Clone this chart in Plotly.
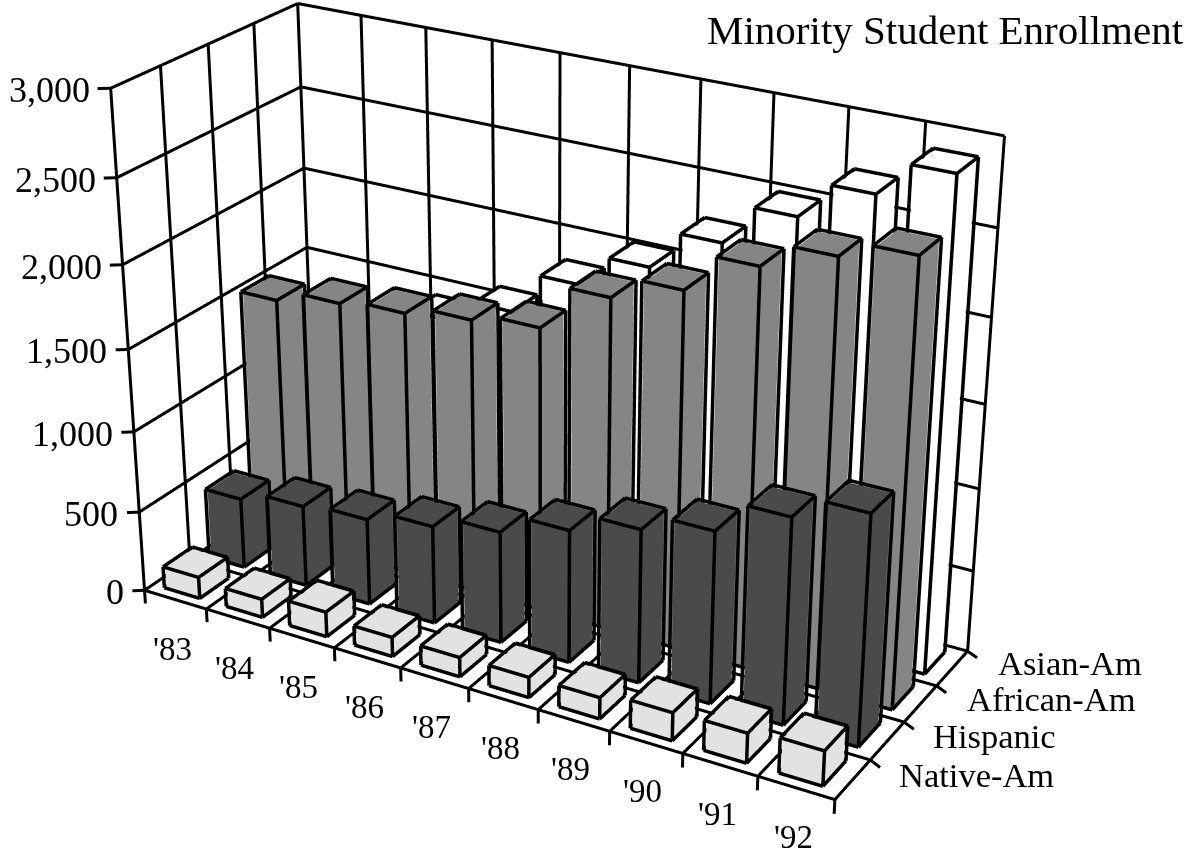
import plotly.graph_objects as go

# Enrollment by year and group
years = ["'83", "'84", "'85", "'86", "'87", "'88", "'89", "'90", "'91", "'92"]
groups = ["Native-Am", "Hispanic", "African-Am", "Asian-Am"]
native_am = [135, 115, 155, 120, 120, 125, 130, 170, 180, 210]
hispanic = [440, 505, 535, 605, 685, 810, 930, 1035, 1230, 1365]
african_am = [1515, 1590, 1625, 1680, 1730, 2000, 2135, 2360, 2505, 2600]
asian_am = [1175, 1270, 1425, 1570, 1825, 2020, 2250, 2485, 2695, 2890]
series = [native_am, hispanic, african_am, asian_am]
value_ticks = [0, 500, 1000, 1500, 2000, 2500, 3000]
title = "Minority Student Enrollment"

colors = ["#E2E2E2", "#4A4A4A", "#858585", "#FFFFFF"]
FONT = "Liberation Serif"

# Footprint of a column inside its floor cell, as fractions of the cell
BAR_X = (0.182, 0.757)
BAR_Y = (0.189, 0.836)

# Faces sit a hair inside the outlines so the black edges stay fully visible
INSET, TOP_INSET = 0.02, 8

X_RANGE, Y_RANGE, Z_RANGE = (-0.5, 10.5), (-0.5, 4.5), (-150, 3050)

# Plotly's field of view is a fixed 45 degrees of the scene height, so the long
# lens of this chart needs a very tall scene, lifted so its subject is on the page.
SCENE_W, SCENE_H, LIFT = 1207, 2402, 793
TITLE_RIGHT, TITLE_MID = 1186, 30

BOX_TRIANGLES = [(0, 1, 2), (0, 2, 3), (4, 5, 6), (4, 6, 7), (0, 1, 5), (0, 5, 4),
                 (1, 2, 6), (1, 6, 5), (2, 3, 7), (2, 7, 6), (3, 0, 4), (3, 4, 7)]
BOX_EDGES = [(0, 1), (1, 2), (2, 3), (3, 0), (4, 5), (5, 6), (6, 7), (7, 4),
             (0, 4), (1, 5), (2, 6), (3, 7)]

fig = go.Figure()

for row, values in enumerate(series):
    vx, vy, vz, ti, tj, tk = [], [], [], [], [], []
    ex, ey, ez = [], [], []
    for col, value in enumerate(values):
        x0, x1 = col + BAR_X[0], col + BAR_X[1]
        y0, y1 = row + BAR_Y[0], row + BAR_Y[1]
        base = len(vx)
        for level in (0, value - TOP_INSET):
            vx += [x0 + INSET, x1 - INSET, x1 - INSET, x0 + INSET]
            vy += [y0 + INSET, y0 + INSET, y1 - INSET, y1 - INSET]
            vz += [level] * 4
        for a, b, c in BOX_TRIANGLES:
            ti.append(base + a)
            tj.append(base + b)
            tk.append(base + c)
        cx = [x0, x1, x1, x0] * 2
        cy = [y0, y0, y1, y1] * 2
        cz = [0] * 4 + [value] * 4
        for a, b in BOX_EDGES:
            ex += [cx[a], cx[b], None]
            ey += [cy[a], cy[b], None]
            ez += [cz[a], cz[b], None]
    fig.add_trace(go.Mesh3d(
        x=vx, y=vy, z=vz, i=ti, j=tj, k=tk, color=colors[row], flatshading=True, hoverinfo="skip",
        lighting=dict(ambient=1, diffuse=0, specular=0, fresnel=0, roughness=1)))
    fig.add_trace(go.Scatter3d(
        x=ex, y=ey, z=ez, mode="lines", line=dict(color="black", width=7), hoverinfo="skip"))

# Walls, floor grid and tick marks
n_years, n_groups, z_top = len(years), len(groups), value_ticks[-1]
gx, gy, gz = [], [], []


def segment(a, b):
    gx.extend([a[0], b[0], None])
    gy.extend([a[1], b[1], None])
    gz.extend([a[2], b[2], None])


for z in value_ticks:
    segment((0, 0, z), (0, n_groups, z))
    segment((0, n_groups, z), (n_years, n_groups, z))
    segment((0, 0, z), (-0.13, -0.09, z))
for y in range(n_groups + 1):
    segment((0, y, 0), (0, y, z_top))
    segment((0, y, 0), (n_years, y, 0))
for x in range(n_years + 1):
    segment((x, n_groups, 0), (x, n_groups, z_top))
    segment((x, 0, 0), (x, n_groups, 0))
    segment((x, 0, 0), (x, 0, -85))
for y in range(1, n_groups + 1):
    segment((n_years, y, 0), (n_years + 0.17, y - 0.095, 0))
fig.add_trace(go.Scatter3d(
    x=gx, y=gy, z=gz, mode="lines", line=dict(color="black", width=6), hoverinfo="skip"))

# Axis labels are anchored to the data positions they name
labels = []
for z in value_ticks:
    labels.append(dict(x=0, y=0, z=z, text=f"{z:,}", showarrow=False, xanchor="right", xshift=-19,
                       yshift=-2, font=dict(family=FONT, size=36, color="black")))
for col, year in enumerate(years):
    labels.append(dict(x=col + 0.5, y=0, z=0, text=year, showarrow=False, xshift=-3, yshift=-49,
                       font=dict(family=FONT, size=33, color="black")))
for row, group in enumerate(groups):
    labels.append(dict(x=n_years, y=row + 0.5, z=0, text=group, showarrow=False, xanchor="left",
                       xshift=44, yshift=5, font=dict(family=FONT, size=34.5, color="black")))

hidden_axis = dict(visible=False, showgrid=False, zeroline=False, showticklabels=False, showspikes=False)
fig.update_layout(
    width=SCENE_W, height=SCENE_H, margin=dict(l=0, r=0, t=0, b=0), showlegend=False,
    paper_bgcolor="white",
    annotations=[dict(
        text=title, xref="paper", yref="paper",
        x=TITLE_RIGHT / SCENE_W, y=1 - (TITLE_MID + LIFT) / SCENE_H,
        xanchor="right", yanchor="middle", showarrow=False,
        font=dict(family=FONT, size=41, color="black"))],
    scene=dict(
        domain=dict(x=[0, 1], y=[0, 1]),
        aspectmode="manual", aspectratio=dict(x=1.4861, y=0.6691, z=1),
        xaxis=dict(range=X_RANGE, **hidden_axis),
        yaxis=dict(range=Y_RANGE, **hidden_axis),
        zaxis=dict(range=Z_RANGE, **hidden_axis),
        camera=dict(
            eye=dict(x=2.2238, y=-3.819, z=2.0491),
            center=dict(x=0.077, y=0.0496, z=-0.0449),
            up=dict(x=1.0147, y=-1.8287, z=1.0)),
        annotations=labels, bgcolor="white"))

fig.write_html("out.html", config=dict(displayModeBar=False),
               post_script=f"document.getElementById('{{plot_id}}').style.marginTop='-{LIFT}px';")
